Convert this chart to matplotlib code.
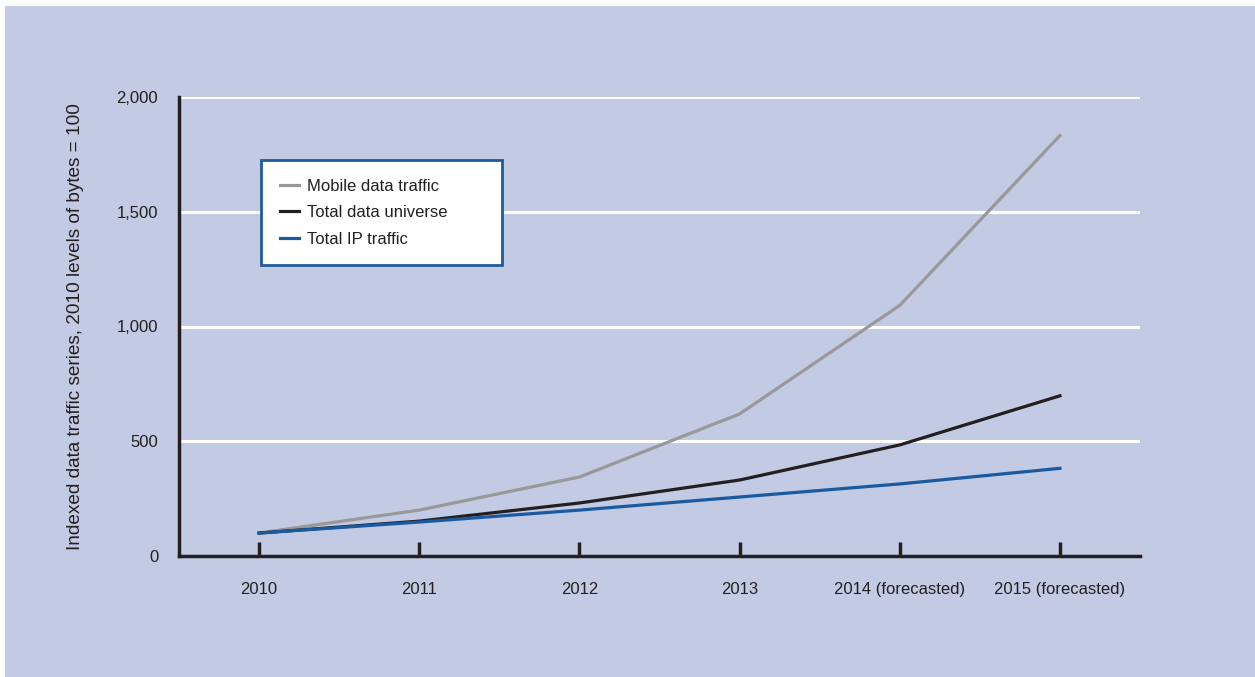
import matplotlib
matplotlib.use("Agg")
import matplotlib.pyplot as plt
from matplotlib.patches import Rectangle
from matplotlib import font_manager

names = {f.name for f in font_manager.fontManager.ttflist}
fam = ['Liberation Sans Narrow', 'DejaVu Sans'] if 'Liberation Sans Narrow' in names else ['Liberation Sans', 'DejaVu Sans']
plt.rcParams['font.family'] = fam

categories = ["2010", "2011", "2012", "2013", "2014 (forecasted)", "2015 (forecasted)"]
mobile = [100, 200, 344, 619, 1092, 1832]
total_universe = [100, 152, 231, 331, 484, 698]
total_ip = [100, 148, 200, 257, 314, 382]
yticks = [0, 500, 1000, 1500, 2000]
ytick_labels = ["0", "500", "1,000", "1,500", "2,000"]

bg = "#C3CAE3"
dark = "#231F20"

W, H = 1255, 677
fig = plt.figure(figsize=(W / 100, H / 100), dpi=100, facecolor="white")
fig.patches.append(Rectangle((5 / W, 0), 1 - 5 / W, 1 - 6 / H, transform=fig.transFigure,
                             facecolor=bg, edgecolor="none", zorder=-10))

ax = fig.add_axes([179 / W, (H - 556) / H, (1140 - 179) / W, (556 - 97) / H])
ax.set_facecolor("none")
x = list(range(len(categories)))
ax.set_xlim(-0.5, len(categories) - 0.5)
ax.set_ylim(0, 2000)

for v in yticks[1:]:
    ax.axhline(v, color="white", lw=2.2, zorder=1)

ax.plot(x, mobile, color="#999999", lw=2.3, label="Mobile data traffic", zorder=3)
ax.plot(x, total_universe, color=dark, lw=2.3, label="Total data universe", zorder=4)
ax.plot(x, total_ip, color="#1A5AA0", lw=2.3, label="Total IP traffic", zorder=5)

for s in ["top", "right"]:
    ax.spines[s].set_visible(False)
for s in ["left", "bottom"]:
    ax.spines[s].set_color(dark)
    ax.spines[s].set_linewidth(2.5)

ax.set_xticks(x)
ax.set_xticklabels(categories)
ax.tick_params(axis="x", direction="in", length=10, width=2.5, color=dark,
               labelsize=12, labelcolor=dark, pad=19)
ax.set_yticks(yticks)
ax.set_yticklabels(ytick_labels)
ax.tick_params(axis="y", length=0, labelsize=12, labelcolor=dark, pad=15)

fig.text(76 / W, 1 - 327 / H, "Indexed data traffic series, 2010 levels of bytes = 100",
         rotation=90, ha="center", va="center", fontsize=13.7, color=dark)

leg = ax.legend(loc="upper left", bbox_to_anchor=(261 / W, 1 - 265 / H, 241 / W, 105 / H),
                bbox_transform=fig.transFigure, mode="expand", frameon=True, fancybox=False,
                fontsize=12, handlelength=1.15, handletextpad=0.5, labelspacing=0.69,
                borderpad=1.12, borderaxespad=0, labelcolor=dark)
fr = leg.get_frame()
fr.set_edgecolor("#1F5C99")
fr.set_linewidth(2)
fr.set_facecolor("white")
fr.set_alpha(1)
leg.set_zorder(10)

fig.savefig("out.png", dpi=100, facecolor="white")
